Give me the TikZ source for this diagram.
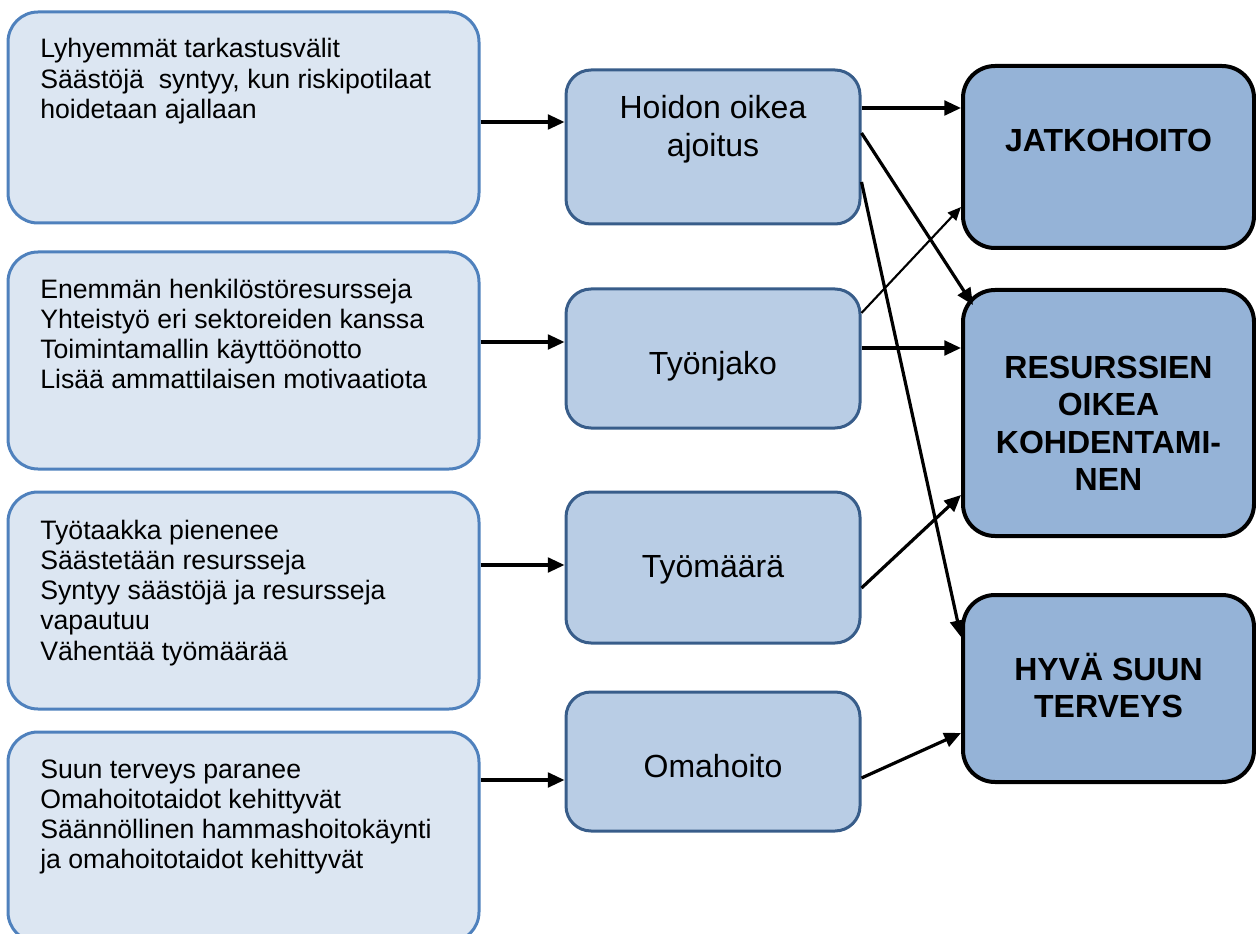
\documentclass[tikz,border=0pt]{standalone}
\usepackage{fontspec}
\setmainfont{Liberation Sans}
\usetikzlibrary{arrows.meta,calc}
\definecolor{lfill}{HTML}{DCE6F2}
\definecolor{ldraw}{HTML}{4F81BD}
\definecolor{mfill}{HTML}{B9CDE5}
\definecolor{mdraw}{HTML}{385D8A}
\definecolor{rfill}{HTML}{95B3D7}
\begin{document}
\begin{tikzpicture}[x=0.75pt,y=-0.75pt,
  lbox/.style={draw=ldraw,fill=lfill,line width=2.25pt,rounded corners=22.5pt,inner sep=0pt,minimum width=353.25pt},
  mbox/.style={draw=mdraw,fill=mfill,line width=2.25pt,rounded corners=18.75pt,inner sep=0pt,minimum width=220.5pt},
  rbox/.style={draw=black,fill=rfill,line width=3pt,rounded corners=24pt,inner sep=0pt,minimum width=218.25pt},
  ltext/.style={anchor=base west,inner sep=0pt,font=\fontsize{20}{22.7}\selectfont},
  mtext/.style={anchor=base,inner sep=0pt,font=\fontsize{24}{28.5}\selectfont},
  rtext/.style={anchor=base,inner sep=0pt,font=\bfseries\fontsize{24}{28.2}\selectfont},
  arr/.style={line width=2.4pt,-{Triangle[length=12.5pt,width=11pt]}},
  thinarr/.style={line width=1.6pt,-{Triangle[length=10pt,width=8.5pt]}}]
\useasboundingbox (0,0) rectangle (1256,934);
% left boxes
\node[lbox,minimum height=158.25pt] (l1) at (243.5,117.5) {};
\node[lbox,minimum height=162.75pt] (l2) at (243.5,360.5) {};
\node[lbox,minimum height=162.75pt] (l3) at (243.5,600.5) {};
\node[lbox,minimum height=157.5pt] (l4) at (243.5,837) {};
% middle boxes
\node[mbox,minimum height=115.5pt] (m1) at (713,147) {};
\node[mbox,minimum height=104.25pt] (m2) at (713,358.5) {};
\node[mbox,minimum height=113.25pt] (m3) at (713,567.5) {};
\node[mbox,minimum height=104.25pt] (m4) at (713,761.5) {};
% right boxes
\node[rbox,minimum height=136.5pt] (r1) at (1108.5,157) {};
\node[rbox,minimum height=184.5pt] (r2) at (1108.5,413) {};
\node[rbox,minimum height=140.25pt] (r3) at (1108.5,688.5) {};
% texts
\node[ltext] (t1) at (40,58) {\begin{tabular}[t]{@{}l@{}}Lyhyemmät tarkastusvälit\\Säästöjä\ \ syntyy, kun riskipotilaat\\hoidetaan ajallaan\end{tabular}};
\node[ltext] (t2) at (40,298) {\begin{tabular}[t]{@{}l@{}}Enemmän henkilöstöresursseja\\Yhteistyö eri sektoreiden kanssa\\Toimintamallin käyttöönotto\\Lisää ammattilaisen motivaatiota\end{tabular}};
\node[ltext] (t3) at (40,539) {\begin{tabular}[t]{@{}l@{}}Työtaakka pienenee\\Säästetään resursseja\\Syntyy säästöjä ja resursseja\\vapautuu\\Vähentää työmäärää\end{tabular}};
\node[ltext] (t4) at (40,778) {\begin{tabular}[t]{@{}l@{}}Suun terveys paranee\\Omahoitotaidot kehittyvät\\Säännöllinen hammashoitokäynti\\ja omahoitotaidot kehittyvät\end{tabular}};
\node[mtext] (tm1) at (713,119) {\begin{tabular}[t]{@{}c@{}}Hoidon oikea\\ajoitus\end{tabular}};
\node[mtext] (tm2) at (713,374) {Työnjako};
\node[mtext] (tm3) at (713,577) {Työmäärä};
\node[mtext] (tm4) at (713,777) {Omahoito};
\node[rtext] (tr1) at (1108.5,152) {JATKOHOITO};
\node[rtext] (tr2) at (1108.5,378) {\begin{tabular}[t]{@{}c@{}}RESURSSIEN\\OIKEA\\KOHDENTAMI-\\NEN\end{tabular}};
\node[rtext] (tr3) at (1108.5,680) {\begin{tabular}[t]{@{}c@{}}HYVÄ SUUN\\TERVEYS\end{tabular}};
% connectors
\draw[arr] (l1.east |- 0,122) -- (m1.west |- 0,122);
\draw[arr] (l2.east |- 0,342) -- (m2.west |- 0,342);
\draw[arr] (l3.east |- 0,565) -- (m3.west |- 0,565);
\draw[arr] (l4.east |- 0,780) -- (m4.west |- 0,780);
\draw[arr] (m1.east |- 0,108) -- (r1.west |- 0,108);
\draw[arr] (m1.east |- 0,133) -- ($(r2.north west)+(12,17)$);
\draw[arr] (m1.east |- 0,182) -- (r3.west |- 0,637);
\draw[thinarr] (m2.east |- 0,313) -- (r1.west |- 0,207);
\draw[arr] (m2.east |- 0,348) -- (r2.west |- 0,348);
\draw[arr] (m3.east |- 0,588) -- (r2.west |- 0,495);
\draw[arr] (m4.east |- 0,778) -- (r3.west |- 0,733);
\end{tikzpicture}
\end{document}
